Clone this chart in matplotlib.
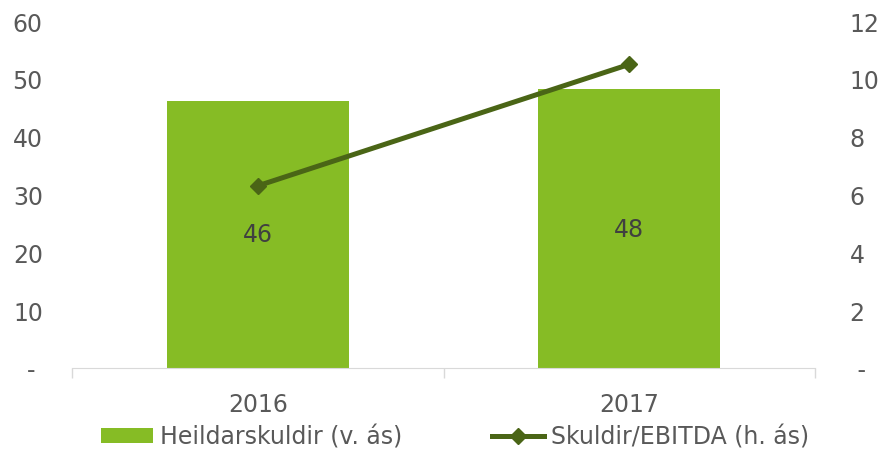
import matplotlib
matplotlib.use("Agg")
import matplotlib.pyplot as plt
from matplotlib.ticker import FixedLocator

years = ["2016", "2017"]
debt = [46.2, 48.2]
debt_labels = ["46", "48"]
ratio = [6.3, 10.5]
left_ticks = [0, 10, 20, 30, 40, 50, 60]
left_tick_labels = ["- ", "10", "20", "30", "40", "50", "60"]
right_ticks = [0, 2, 4, 6, 8, 10, 12]
right_tick_labels = [" -", "2", "4", "6", "8", "10", "12"]

bar_color = "#86BC25"
line_color = "#4A6516"
text_color = "#595959"
fs = 17

plt.rcParams["font.family"] = ["DejaVu Sans"]

fig = plt.figure(figsize=(8.83, 4.52), dpi=100)
ax = fig.add_axes([72/883, 1-369/452, (815-72)/883, (369-22)/452])
x = list(range(len(years)))
ax.bar(x, debt, width=0.49, color=bar_color, label="Heildarskuldir (v. ás)", zorder=2)
for xi, v, lab in zip(x, debt, debt_labels):
    ax.text(xi, v/2, lab, ha="center", va="center", fontsize=fs, color="#404040", zorder=3)

ax.set_xlim(-0.5, len(years)-0.5)
ax.set_ylim(0, 60)
ax.set_yticks(left_ticks)
ax.set_yticklabels(left_tick_labels)
ax.set_xticks(x)
ax.set_xticklabels(years)
ax.xaxis.set_minor_locator(FixedLocator([-0.5, 0.5, 1.5]))
ax.tick_params(axis="x", which="major", length=0, pad=17, labelsize=fs, labelcolor=text_color)
ax.tick_params(axis="x", which="minor", length=7, color="#D9D9D9", width=1)
ax.tick_params(axis="y", length=0, pad=21, labelsize=fs, labelcolor=text_color)
for s in ["top", "left", "right"]:
    ax.spines[s].set_visible(False)
ax.spines["bottom"].set_color("#D9D9D9")

ax2 = ax.twinx()
ax2.plot(x, ratio, color=line_color, lw=3.6, marker="D", markersize=8,
         label="Skuldir/EBITDA (h. ás)", zorder=4)
ax2.set_ylim(0, 12)
ax2.set_yticks(right_ticks)
ax2.set_yticklabels(right_tick_labels)
ax2.tick_params(axis="y", length=0, pad=25, labelsize=fs, labelcolor=text_color)
for s in ["top", "left", "right", "bottom"]:
    ax2.spines[s].set_visible(False)

h1, l1 = ax.get_legend_handles_labels()
h2, l2 = ax2.get_legend_handles_labels()
fig.legend(h1 + h2, l1 + l2, loc="center", bbox_to_anchor=(455/883, 1-438/452),
           ncol=2, frameon=False, fontsize=fs, labelcolor=text_color,
           handlelength=2.2, handletextpad=0.3, columnspacing=3.8,
           handleheight=0.6)

fig.savefig("out.png", dpi=100)
